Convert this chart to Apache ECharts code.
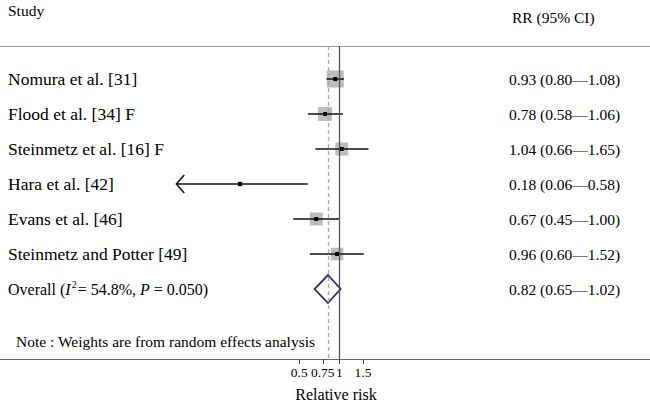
<!DOCTYPE html>
<html>
<head>
<meta charset="utf-8">
<script src="https://cdn.jsdelivr.net/npm/echarts@6/dist/echarts.min.js"></script>
<style>
  html, body { margin: 0; padding: 0; background: #fff; }
  #chart { width: 650px; height: 411px; }
</style>
</head>
<body>
<div id="chart"></div>
<script>
// ---- data ----
const studies = ['Nomura et al. [31]', 'Flood et al. [34] F', 'Steinmetz et al. [16] F',
                 'Hara et al. [42]', 'Evans et al. [46]', 'Steinmetz and Potter [49]'];
const rr      = [0.93, 0.78, 1.04, 0.18, 0.67, 0.96];
const ciLow   = [0.80, 0.58, 0.66, 0.06, 0.45, 0.60];
const ciHigh  = [1.08, 1.06, 1.65, 0.58, 1.00, 1.52];
const weights = [28.8, 19.5, 16.8, 2.5, 16.8, 15.6];   // % (random effects), drives box size
const overallRR = [0.82, 0.65, 1.02];                   // estimate, low, high
const overallStats = ['54.8%', '0.050'];                // I^2, P
const tickValues = [0.5, 0.75, 1, 1.5];
const plotMin = 0.06;   // CIs reaching below this get an arrow

const SERIF = 'Liberation Serif, Times New Roman, serif';
const FS = 15.5;
const fmt = v => v.toFixed(2);
const ciText = (e, l, h) => fmt(e) + ' (' + fmt(l) + '—' + fmt(h) + ')';
const txt = (t, size, extra) => Object.assign({ text: t, fill: '#000', font: size + 'px ' + SERIF, verticalAlign: 'middle' }, extra || {});

const studyData = rr.map((v, i) => [v, i, ciLow[i], ciHigh[i], weights[i]]);
const overallRow = studies.length;

function renderStudy(params, api) {
  const i = params.dataIndex;
  const row = api.value(1);
  const c = api.coord([api.value(0), row]);
  const lo = api.coord([Math.max(api.value(2), plotMin), row]);
  const hi = api.coord([api.value(3), row]);
  const s = Math.sqrt(api.value(4)) * 3.17;
  const kids = [
    { type: 'rect', shape: { x: c[0] - s / 2, y: c[1] - s / 2, width: s, height: s }, style: { fill: '#bdbdbd' } },
    { type: 'line', shape: { x1: lo[0], y1: c[1], x2: hi[0], y2: c[1] }, style: { stroke: '#111', lineWidth: 1.5 } },
    { type: 'rect', shape: { x: c[0] - 2, y: c[1] - 2, width: 4, height: 4 }, style: { fill: '#000' } },
    { type: 'text', x: 8, y: c[1], style: txt(studies[i], 17.5) },
    { type: 'text', x: 509, y: c[1], style: txt(ciText(api.value(0), api.value(2), api.value(3)), FS) }
  ];
  if (api.value(2) <= plotMin) {
    kids.push({ type: 'polyline', shape: { points: [[lo[0] + 8, c[1] - 9], [lo[0], c[1]], [lo[0] + 8, c[1] + 9]] },
                style: { stroke: '#111', fill: 'none', lineWidth: 1.5 } });
  }
  return { type: 'group', children: kids };
}

function renderOverall(params, api) {
  const row = api.value(1);
  const c = api.coord([api.value(0), row]);
  const lo = api.coord([api.value(2), row]);
  const hi = api.coord([api.value(3), row]);
  return { type: 'group', children: [
    { type: 'polygon', shape: { points: [[lo[0], c[1]], [c[0], c[1] - 14], [hi[0], c[1]], [c[0], c[1] + 14]] },
      style: { stroke: '#2b2a6a', fill: 'none', lineWidth: 1.8 } },
    { type: 'text', x: 8, y: c[1], style: txt(
        'Overall ({i|I}{sup|2}= ' + overallStats[0] + ', {i|P} = ' + overallStats[1] + ')', 16, {
        rich: {
          i: { font: 'italic 16px ' + SERIF, fill: '#000' },
          sup: { font: '10px ' + SERIF, padding: [0, 1, 9, 1], fill: '#000' }
        } }) },
    { type: 'text', x: 509, y: c[1], style: txt(ciText(api.value(0), api.value(2), api.value(3)), FS) }
  ] };
}

const chart = echarts.init(document.getElementById('chart'), null, { renderer: 'svg' });
chart.setOption({
  animation: false,
  backgroundColor: '#fff',
  textStyle: { fontFamily: SERIF },
  grid: { left: 0, right: 0, top: 46, bottom: 52 },
  xAxis: [{
    type: 'log',
    min: 0.002873, max: 211.3,
    axisLine: { show: true, onZero: false, lineStyle: { color: '#666', width: 1.2 } },
    axisTick: { show: true, length: 5, customValues: tickValues, lineStyle: { color: '#444' } },
    axisLabel: { customValues: tickValues, margin: 6, color: '#000', fontSize: 13.5, fontFamily: SERIF,
                 formatter: v => String(+(+v).toFixed(2)) },
    splitLine: { show: false },
    name: 'Relative risk', nameLocation: 'middle', nameGap: 27,
    nameTextStyle: { color: '#000', fontSize: 16, fontFamily: SERIF, padding: [0, 0, 0, 22] }
  }, {
    type: 'value', position: 'top', min: 0, max: 1,
    axisLine: { show: true, onZero: false, lineStyle: { color: '#999', width: 1 } },
    axisTick: { show: false }, axisLabel: { show: false }, splitLine: { show: false }
  }],
  yAxis: { type: 'value', inverse: true, min: -0.943, max: 8, show: false },
  graphic: [
    { type: 'text', left: 8, top: 2, style: { text: 'Study', fill: '#000', font: FS + 'px ' + SERIF } },
    { type: 'text', left: 512, top: 9, style: { text: 'RR (95% CI)', fill: '#000', font: FS + 'px ' + SERIF } },
    { type: 'text', left: 16, top: 333, style: { text: 'Note : Weights are from random effects analysis', fill: '#000', font: FS + 'px ' + SERIF } }
  ],
  series: [
    {
      type: 'line', data: [], xAxisIndex: 0,
      markLine: {
        silent: true, symbol: 'none', label: { show: false },
        data: [
          { xAxis: 1, lineStyle: { color: '#555', width: 1.3, type: 'solid' } },
          { xAxis: overallRR[0], lineStyle: { color: '#c7a0a5', width: 1.4, type: [4, 3] } }
        ]
      }
    },
    { type: 'custom', xAxisIndex: 0, renderItem: renderStudy, data: studyData, clip: false },
    { type: 'custom', xAxisIndex: 0, renderItem: renderOverall,
      data: [[overallRR[0], overallRow, overallRR[1], overallRR[2]]], clip: false }
  ]
});
</script>
</body>
</html>
